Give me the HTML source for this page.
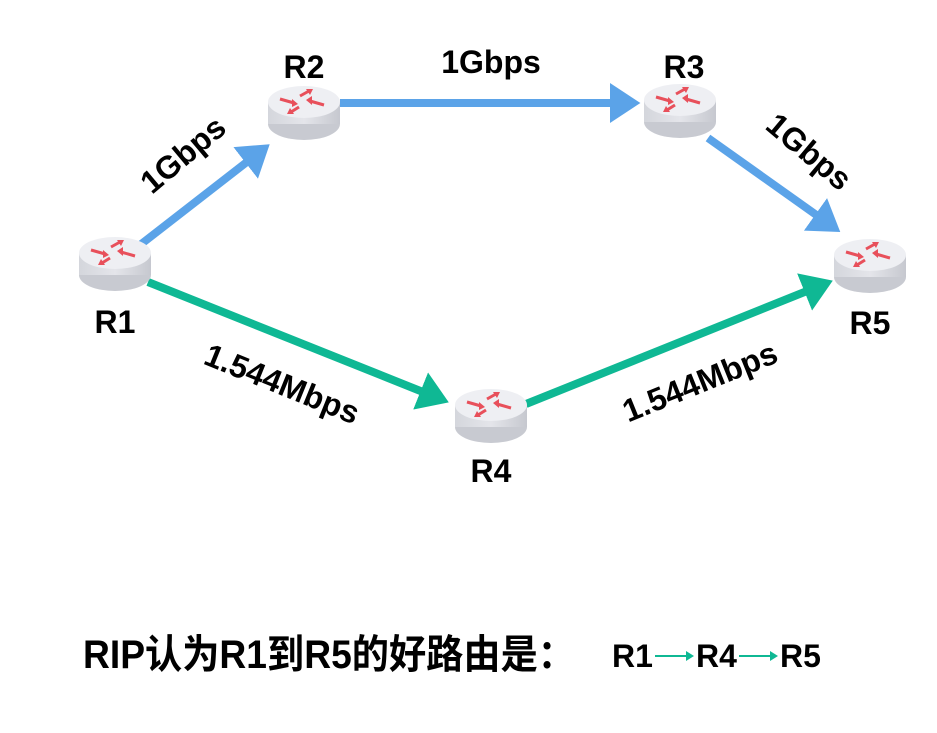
<!DOCTYPE html>
<html><head><meta charset="utf-8"><style>
html,body{margin:0;padding:0;background:#fff;}
svg{display:block}
text{font-family:"Liberation Sans","Noto Sans CJK SC",sans-serif;font-weight:bold;fill:#000}
</style></head><body>
<svg width="937" height="733" viewBox="0 0 937 733" xmlns="http://www.w3.org/2000/svg">
<defs>
<linearGradient id="side" x1="0" x2="1" y1="0" y2="0">
<stop offset="0" stop-color="#d4d6dc"/><stop offset="0.5" stop-color="#e4e5ea"/><stop offset="1" stop-color="#c6c8cf"/>
</linearGradient>
<g id="rt">
<ellipse cx="0" cy="22" rx="36" ry="16" fill="#c8cad1"/>
<rect x="-36" y="0" width="72" height="22" fill="url(#side)"/>
<ellipse cx="0" cy="0" rx="36" ry="16" fill="#eeeff3"/>
<g stroke="#e8505b" stroke-width="3" fill="#e8505b">
<line x1="-24" y1="-3" x2="-10" y2="1"/><polygon points="-6,2 -12,-3 -12,5" stroke="none"/>
<line x1="20" y1="3" x2="6" y2="-1"/><polygon points="2,-2 8,-6 8,3" stroke="none"/>
<line x1="-4" y1="-6" x2="5" y2="-11"/><polygon points="9,-13 2,-13 6,-7" stroke="none"/>
<line x1="-5" y1="5" x2="-13" y2="10"/><polygon points="-17,12 -10,12 -14,6" stroke="none"/>
</g>
</g>
<marker id="ab" markerWidth="5" markerHeight="5" refX="1" refY="2.5" orient="auto" markerUnits="strokeWidth"><polygon points="0,0 3.8,2.5 0,5" fill="#5ba3e8"/></marker>
<marker id="ag" markerWidth="5" markerHeight="5" refX="1" refY="2.5" orient="auto" markerUnits="strokeWidth"><polygon points="0,0 3.8,2.5 0,5" fill="#0fb894"/></marker>
</defs>
<g stroke-width="8" fill="none">
<line x1="140" y1="245" x2="252" y2="158" stroke="#5ba3e8" marker-end="url(#ab)"/>
<line x1="340" y1="103" x2="618" y2="103" stroke="#5ba3e8" marker-end="url(#ab)"/>
<line x1="708" y1="138" x2="822" y2="219" stroke="#5ba3e8" marker-end="url(#ab)"/>
<line x1="148" y1="282" x2="428" y2="394" stroke="#0fb894" marker-end="url(#ag)"/>
<line x1="526" y1="404" x2="812" y2="289" stroke="#0fb894" marker-end="url(#ag)"/>
</g>
<use href="#rt" x="115" y="253"/>
<use href="#rt" x="304" y="102"/>
<use href="#rt" x="680" y="100"/>
<use href="#rt" x="870" y="255"/>
<use href="#rt" x="491" y="405"/>
<g font-size="32">
<text x="115" y="333" text-anchor="middle">R1</text>
<text x="304" y="78" text-anchor="middle">R2</text>
<text x="684" y="78" text-anchor="middle">R3</text>
<text x="870" y="334" text-anchor="middle">R5</text>
<text x="491" y="482" text-anchor="middle">R4</text>
<text x="491" y="73" text-anchor="middle">1Gbps</text>
<text transform="translate(190,163) rotate(-40)" text-anchor="middle">1Gbps</text>
<text transform="translate(802,160) rotate(40)" text-anchor="middle">1Gbps</text>
<text transform="translate(278,394) rotate(22)" text-anchor="middle">1.544Mbps</text>
<text transform="translate(704,392) rotate(-22)" text-anchor="middle">1.544Mbps</text>
</g>
<text x="83" y="668" font-size="40" textLength="492" lengthAdjust="spacingAndGlyphs">RIP认为R1到R5的好路由是：</text>
<g font-size="32">
<text x="612" y="667">R1</text>
<text x="696" y="667">R4</text>
<text x="780" y="667">R5</text>
</g>
<g fill="#0fb894" stroke="#0fb894" stroke-width="2">
<line x1="655" y1="656" x2="690" y2="656"/><polygon points="694,656 686,651 686,661" stroke="none"/>
<line x1="739" y1="656" x2="774" y2="656"/><polygon points="778,656 770,651 770,661" stroke="none"/>
</g>
</svg>
</body></html>
